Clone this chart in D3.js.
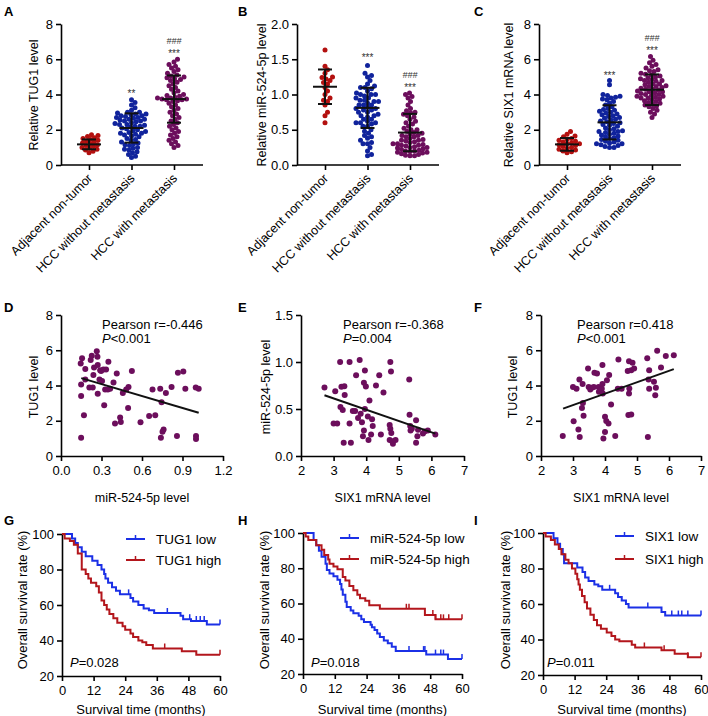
<!DOCTYPE html>
<html><head><meta charset="utf-8">
<script src="https://cdn.jsdelivr.net/npm/d3@7"></script>
<style>body{margin:0;background:#fff}</style>
</head><body>
<script>
// ---------------- DATA ----------------
const groupCats = ["Adjacent non-tumor","HCC without metastasis","HCC with metastasis"];
const yTicksTUG1 = [0,2,4,6,8];
const yTicksMiR = [0,0.5,1.0,1.5,2.0];
const yTicksSIX1 = [0,2,4,6,8];

// Panel A: Relative TUG1 level
const tugAdj = [1.72,1.68,1.62,1.55,1.5,1.45,1.4,1.35,1.3,1.25,1.2,1.15,1.1,1.05,1.0,0.95,0.9,0.85,0.78,0.7];
const tugNoMet = [3.7,3.55,3.4,3.25,3.1,3.0,3.0,2.95,2.9,2.9,2.85,2.8,2.8,2.75,2.7,2.7,2.65,2.6,2.55,2.5,2.5,2.45,2.4,2.35,2.3,2.3,2.25,2.2,2.15,2.1,2.05,2.0,1.95,1.9,1.85,1.8,1.75,1.7,1.65,1.6,1.5,1.45,1.4,1.3,1.25,1.2,1.15,1.1,1.0,0.95,0.9,0.85,0.75,0.7,0.6,0.5,0.42,2.6,2.2,1.8];
const tugMet = [6.0,5.85,5.7,5.6,5.5,5.4,5.3,5.2,5.1,5.05,5.0,4.95,4.9,4.85,4.8,4.7,4.6,4.5,4.4,4.3,4.2,4.1,4.0,3.95,3.9,3.85,3.8,3.8,3.75,3.75,3.7,3.7,3.65,3.6,3.5,3.4,3.3,3.2,3.1,3.0,2.9,2.8,2.7,2.6,2.5,2.4,2.3,2.2,2.1,2.0,1.9,1.8,1.7,1.6,1.5,1.4,1.3,1.2,1.1,1.0];
const tugMean = [1.17,2.1,3.74];
const tugSD = [0.28,0.83,1.34];

// Panel B: Relative miR-524-5p level
const mirAdj = [1.63,1.4,1.35,1.3,1.25,1.24,1.22,1.2,1.17,1.15,1.1,1.05,1.0,0.95,0.92,0.9,0.85,0.75,0.7,0.6];
const mirNoMet = [1.41,1.3,1.27,1.25,1.2,1.15,1.12,1.1,1.1,1.05,1.02,1.0,1.0,1.0,0.98,0.95,0.92,0.9,0.9,0.88,0.85,0.85,0.82,0.8,0.8,0.78,0.75,0.75,0.72,0.7,0.7,0.68,0.65,0.62,0.6,0.6,0.6,0.58,0.55,0.5,0.48,0.45,0.4,0.38,0.35,0.32,0.3,0.3,0.25,0.2,0.15,0.13,0.95,0.85,0.65,1.08,0.92,0.55,0.42,0.78];
const mirMet = [1.02,1.0,0.97,0.95,0.9,0.85,0.8,0.77,0.75,0.74,0.72,0.7,0.68,0.65,0.6,0.58,0.55,0.52,0.5,0.5,0.48,0.46,0.45,0.44,0.42,0.4,0.4,0.38,0.36,0.35,0.34,0.33,0.32,0.3,0.3,0.29,0.28,0.27,0.26,0.25,0.24,0.23,0.22,0.21,0.2,0.2,0.19,0.18,0.17,0.16,0.15,0.14,0.13,0.13,0.28,0.35,0.42,0.62,0.18,0.25];
const mirMean = [1.11,0.81,0.46];
const mirSD = [0.245,0.285,0.265];

// Panel C: Relative SIX1 mRNA level
const sixAdj = [1.9,1.75,1.65,1.6,1.5,1.45,1.4,1.35,1.3,1.25,1.2,1.15,1.1,1.05,1.0,0.95,0.9,0.85,0.8,0.75,0.7,1.2];
const sixNoMet = [4.8,4.55,4.0,3.95,3.9,3.85,3.8,3.75,3.6,3.5,3.4,3.3,3.2,3.1,3.05,3.0,2.95,2.9,2.8,2.75,2.7,2.65,2.6,2.5,2.45,2.4,2.35,2.3,2.25,2.2,2.1,2.05,2.0,1.95,1.9,1.85,1.8,1.75,1.7,1.65,1.6,1.5,1.45,1.4,1.35,1.3,1.25,1.2,1.15,1.1,1.05,1.0,1.0,2.55,3.15,1.55,2.85,1.9,1.2,3.7];
const sixMet = [6.15,5.95,5.8,5.7,5.6,5.5,5.4,5.35,5.3,5.2,5.15,5.1,5.0,4.95,4.9,4.85,4.8,4.75,4.7,4.6,4.55,4.5,4.45,4.4,4.35,4.3,4.25,4.2,4.15,4.1,4.05,4.0,3.95,3.9,3.85,3.8,3.75,3.7,3.65,3.6,3.5,3.45,3.4,3.35,3.3,3.2,3.1,3.0,2.9,2.7,4.6,4.3,4.0,3.8,4.8,5.05,4.45,3.55,4.15,3.9];
const sixMean = [1.17,2.42,4.27];
const sixSD = [0.36,0.97,0.87];

// Significance marks
const sigA = ["", "**", "***"];
const sigB = ["", "***", "***"];
const sigC = ["", "***", "***"];
const hashMarks = ["", "", "###"];

// Panel D: miR-524-5p level (x) vs TUG1 level (y)
const corrD = [[0.146,5.25],[0.156,5.54],[0.149,4.06],[0.149,3.41],[0.149,1.04],[0.17,2.31],[0.18,4.93],[0.18,4.34],[0.22,5.44],[0.228,5.69],[0.21,3.89],[0.235,3.89],[0.24,4.59],[0.245,5.02],[0.265,5.95],[0.27,5.63],[0.272,5.16],[0.272,3.53],[0.285,4.34],[0.29,4.87],[0.297,4.82],[0.304,4.25],[0.314,4.91],[0.32,2.88],[0.327,3.77],[0.334,4.91],[0.347,3.77],[0.351,5.35],[0.364,3.81],[0.389,4.17],[0.40,1.84],[0.413,4.68],[0.438,2.18],[0.443,1.93],[0.458,3.58],[0.483,3.77],[0.5,3.92],[0.497,2.73],[0.525,4.82],[0.589,1.91],[0.653,2.27],[0.678,3.77],[0.698,2.31],[0.735,3.81],[0.745,3.05],[0.74,1.04],[0.752,1.38],[0.76,1.5],[0.777,3.58],[0.819,3.92],[0.859,1.14],[0.866,4.72],[0.906,4.8],[0.921,3.81],[0.998,3.89],[1.02,3.81],[1.0,1.14],[1.0,0.97]];
const fitD = [[0.15,4.42],[1.02,2.45]];
// Panel E: SIX1 mRNA level (x) vs miR-524-5p level (y)
const corrE = [[2.72,0.73],[3.05,0.69],[3.0,0.345],[3.11,0.345],[3.2,1.0],[3.24,0.736],[3.33,0.743],[3.34,0.65],[3.21,0.52],[3.28,0.49],[3.31,0.14],[3.49,1.0],[3.49,0.345],[3.53,0.14],[3.59,0.48],[3.66,0.48],[3.69,0.86],[3.75,0.405],[3.8,1.02],[3.83,0.45],[3.87,0.36],[3.9,0.21],[3.93,0.78],[3.96,0.91],[3.96,0.5],[3.99,0.74],[3.93,0.27],[4.05,0.42],[4.07,0.17],[4.1,0.59],[4.15,0.23],[4.18,0.39],[4.2,0.32],[4.3,0.75],[4.4,0.86],[4.45,0.23],[4.53,0.675],[4.74,1.0],[4.76,0.9],[4.72,0.33],[4.74,0.29],[4.77,0.245],[4.72,0.17],[4.8,0.156],[4.82,0.13],[4.9,0.17],[5.32,0.814],[5.33,0.44],[5.35,0.32],[5.4,0.29],[5.36,0.27],[5.53,0.38],[5.59,0.28],[5.57,0.21],[5.53,0.14],[5.74,0.24],[5.79,0.26],[5.89,0.27],[6.12,0.23]];
const fitE = [[2.72,0.647],[6.12,0.238]];
// Panel F: SIX1 mRNA level (x) vs TUG1 level (y)
const corrF = [[2.68,1.14],[3.02,1.97],[3.0,3.92],[3.11,3.81],[3.17,1.5],[3.21,1.08],[3.2,4.34],[3.28,2.73],[3.31,3.01],[3.33,2.29],[3.3,4.08],[3.47,4.97],[3.49,3.92],[3.54,3.77],[3.59,3.87],[3.65,3.92],[3.67,4.72],[3.75,4.68],[3.8,3.92],[3.81,3.64],[3.86,3.73],[3.9,3.81],[3.92,4.08],[3.92,5.16],[3.93,3.55],[3.95,0.99],[4.0,2.22],[4.0,1.36],[4.04,1.99],[4.06,4.3],[4.11,1.84],[4.13,4.59],[4.19,2.92],[4.32,1.14],[4.42,5.48],[4.4,3.81],[4.52,3.81],[4.71,4.82],[4.75,5.38],[4.76,3.83],[4.75,3.55],[4.73,2.33],[4.82,2.35],[4.82,4.87],[4.86,5.29],[4.91,4.97],[5.32,5.54],[5.36,4.34],[5.38,4.87],[5.38,3.81],[5.34,1.08],[5.53,4.21],[5.57,3.45],[5.59,3.87],[5.63,5.97],[5.75,5.02],[5.9,5.67],[6.15,5.71]];
const fitF = [[2.69,2.69],[6.15,4.93]];
const ticksD = [0,0.3,0.6,0.9,1.2];
const ticksSIX = [2,3,4,5,6,7];

// Kaplan-Meier curves: [month, survival %]
const kmTicksX = [0,12,24,36,48,60];
const kmTicksY = [20,40,60,80,100];
const tugLowKM = [[0,100],[3.8,97.5],[5,95],[6,92.5],[7.5,90],[9,87.5],[11.5,85],[13.5,82.5],[15,80],[16,77.5],[16.5,75],[17.5,72.5],[19,70],[20.5,68],[22,66],[26,64],[27,62],[29,60],[31,58],[33,57],[35,55.5],[45,54],[46,52],[49,51],[55,49]];
const tugLowCens = [25.3,40,48.5,51,52.5,54,60];
const tugHighKM = [[0,100],[1,97.5],[3,96],[4.5,94],[6,89],[7.5,80],[9,77.5],[10,75],[11,72.5],[13,70.5],[14,67],[15,62.5],[16,60],[17,57.5],[18,55],[19.5,52.5],[21,50],[23,48],[24,46],[26,44],[27,42],[29,40],[30.5,39],[32,37.5],[34.5,35.5],[45.5,34],[51,32]];
const tugHighCens = [39,60];
const mirLowKM = [[0,100],[4,96],[5,93],[6,90],[7,86.5],[8.5,82.5],[9,79],[10,77],[11.5,75.5],[13,73.5],[14,71],[14.5,68],[15,65],[16,61],[16.5,58],[18,56],[19,54.5],[21,53],[22,51],[23,49.5],[25.5,48],[26,46.5],[27,45],[28,43],[29,41],[30.5,39],[32,37.5],[33.5,35.5],[35,33],[46.5,31],[54.7,28.5]];
const mirLowCens = [40,45.5,46,50,52,53,60];
const mirHighKM = [[0,100],[1,98],[2,96],[5,93],[7,90.5],[8,87.5],[9.5,85],[10,82.5],[11.5,81],[13,79.5],[15,75],[16,73],[17.5,70],[19,67.5],[20.5,65],[21.5,63],[23.5,61.5],[25,59],[29,57],[46,53.5],[50,51]];
const mirHighCens = [39,40,49,50,52,53,55,60];
const sixLowKM = [[0,100],[4,97],[5.5,94],[6.5,91],[7.5,88],[8,83],[13,80.5],[15,78],[16,75],[17.3,73],[19.5,71],[21,70],[22.5,68],[27.4,66],[28.5,64],[29.9,62],[31.5,60],[32.5,58],[45,55.5],[46.4,53.5]];
const sixLowCens = [25.3,39.8,48.9,51.4,52.7,55,60];
const sixHighKM = [[0,100],[1,98],[3,96],[4.5,93.5],[6,91],[7,88],[8.5,85],[9.7,83],[11,80],[12.3,77],[13,74],[13.5,71],[14,68],[14.8,64.5],[15.8,61],[16.7,57.5],[18,54],[19.3,51],[20.5,48],[22,46],[24.2,44],[26,42],[27.4,40],[29,39],[33.7,37],[35,35.5],[45,34],[50,32],[55,30]];
const sixHighCens = [38.5,46,55,60];

// ---------------- DRAWING ----------------
const FONT = 'Arial, "Liberation Sans", Helvetica, sans-serif';
const groupColors = ["#b3100f","#10239c","#6c0e5c"];
const purple = "#6c0e5c";
const kmBlue = "#1b30e6", kmRed = "#b3161c";

const svg = d3.select("body").append("svg")
  .attr("width",708).attr("height",716)
  .style("font-family",FONT);

function styleAxis(g){
  g.attr("font-family",FONT).attr("font-size",13);
  g.select(".domain").attr("stroke","#000").attr("stroke-width",1.6);
  g.selectAll(".tick line").attr("stroke","#000").attr("stroke-width",1.6);
  g.selectAll(".tick text").attr("fill","#000");
}
function letter(t,x,y){
  svg.append("text").attr("x",x).attr("y",y).attr("font-size",13).attr("font-weight","bold").text(t);
}
function yTitle(t,x,yc,fs){
  svg.append("text").attr("transform",`translate(${x},${yc}) rotate(-90)`)
    .attr("text-anchor","middle").attr("font-size",fs||12.5).attr("fill","#000").text(t);
}
function swarm(vals,y,d){
  const pts=vals.map(v=>({v,y:y(v)})).sort((a,b)=>b.y-a.y);
  const placed=[];
  pts.forEach(p=>{
    for(let k=0;k<120;k++){
      const cands=k===0?[0]:[k*0.5,-k*0.5];
      let ok=null;
      for(const c of cands){
        if(placed.every(q=>(q.dx-c)*(q.dx-c)+(q.y-p.y)*(q.y-p.y)>=d*d)){ok=c;break;}
      }
      if(ok!==null){p.dx=ok;break;}
    }
    placed.push(p);
  });
  return pts;
}

function dotPanel(o){
  const g=svg.append("g");
  const y=d3.scaleLinear().domain([o.yTicks[0],o.yTicks[o.yTicks.length-1]]).range([165,24]);
  const x=d3.scalePoint().domain(groupCats).range([o.x0+28,o.x0+113]);
  g.append("g").attr("transform",`translate(${o.x0},0)`)
    .call(d3.axisLeft(y).tickValues(o.yTicks).tickFormat(o.fmt).tickSize(5).tickPadding(3).tickSizeOuter(0))
    .call(styleAxis);
  const xa=g.append("g").attr("transform",`translate(0,${y(0)})`)
    .call(d3.axisBottom(x).tickSize(5).tickFormat(""));
  xa.select(".domain").remove();
  styleAxis(xa);
  g.append("line").attr("x1",o.x0).attr("x2",o.x0+142).attr("y1",y(0)).attr("y2",y(0))
    .attr("stroke","#000").attr("stroke-width",1.6);
  groupCats.forEach(c=>{
    g.append("text").attr("transform",`translate(${x(c)+4},${y(0)+14}) rotate(-45)`)
      .attr("text-anchor","end").attr("font-size",12.5).text(c);
  });
  o.groups.forEach((vals,i)=>{
    const cx=x(groupCats[i]);
    const pts=swarm(vals,y,4.1);
    g.selectAll(null).data(pts).enter().append("circle")
      .attr("cx",d=>cx+d.dx).attr("cy",d=>d.y).attr("r",2.5).attr("fill",groupColors[i]);
    const m=o.mean[i], s=o.sd[i];
    g.append("line").attr("x1",cx-12).attr("x2",cx+12).attr("y1",y(m)).attr("y2",y(m)).attr("stroke","#111").attr("stroke-width",2);
    g.append("line").attr("x1",cx).attr("x2",cx).attr("y1",y(m-s)).attr("y2",y(m+s)).attr("stroke","#111").attr("stroke-width",2);
    [m-s,m+s].forEach(v=>g.append("line").attr("x1",cx-7).attr("x2",cx+7).attr("y1",y(v)).attr("y2",y(v)).attr("stroke","#111").attr("stroke-width",2));
    if(o.sig[i]) g.append("text").attr("x",cx).attr("y",o.sigY[i]).attr("text-anchor","middle").attr("font-size",10).attr("fill","#333").text(o.sig[i]);
    if(o.hash[i]) g.append("text").attr("x",cx).attr("y",o.hashY[i]).attr("text-anchor","middle").attr("font-size",9).attr("font-style","italic").attr("fill","#333").text(o.hash[i]);
  });
  yTitle(o.title,o.titleX,95);
}

dotPanel({x0:61,yTicks:yTicksTUG1,fmt:d3.format("d"),groups:[tugAdj,tugNoMet,tugMet],mean:tugMean,sd:tugSD,
  sig:sigA,sigY:[0,97,57],hash:hashMarks,hashY:[0,0,44],title:"Relative TUG1 level",titleX:38});
dotPanel({x0:297,yTicks:yTicksMiR,fmt:d3.format(".1f"),groups:[mirAdj,mirNoMet,mirMet],mean:mirMean,sd:mirSD,
  sig:sigB,sigY:[0,61,91],hash:hashMarks,hashY:[0,0,78],title:"Relative miR-524-5p level",titleX:265.5});
dotPanel({x0:539,yTicks:yTicksSIX1,fmt:d3.format("d"),groups:[sixAdj,sixNoMet,sixMet],mean:sixMean,sd:sixSD,
  sig:sigC,sigY:[0,79,54],hash:hashMarks,hashY:[0,0,41],title:"Relative SIX1 mRNA level",titleX:513});
letter("A",4,16); letter("B",238,16); letter("C",474,16);

function corrPanel(o){
  const g=svg.append("g");
  const x=d3.scaleLinear().domain([o.xTicks[0],o.xTicks[o.xTicks.length-1]]).range([o.x0,o.x1]);
  const y=d3.scaleLinear().domain([o.yTicks[0],o.yTicks[o.yTicks.length-1]]).range([456,315]);
  g.append("g").attr("transform",`translate(${o.x0},0)`)
    .call(d3.axisLeft(y).tickValues(o.yTicks).tickFormat(o.yFmt).tickSize(5).tickPadding(3).tickSizeOuter(0)).call(styleAxis);
  g.append("g").attr("transform",`translate(0,456)`)
    .call(d3.axisBottom(x).tickValues(o.xTicks).tickFormat(o.xFmt).tickSize(5).tickPadding(5).tickSizeOuter(0)).call(styleAxis);
  g.selectAll(null).data(o.pts).enter().append("circle")
    .attr("cx",d=>x(d[0])).attr("cy",d=>y(d[1])).attr("r",3).attr("fill",purple);
  g.append("path").datum(o.fit).attr("d",d3.line().x(d=>x(d[0])).y(d=>y(d[1])))
    .attr("stroke","#111").attr("stroke-width",2).attr("fill","none");
  g.append("text").attr("x",o.tx).attr("y",329).attr("font-size",13).text(o.r);
  const p=g.append("text").attr("x",o.tx).attr("y",343).attr("font-size",13);
  p.append("tspan").attr("font-style","italic").text("P");
  p.append("tspan").text(o.p);
  g.append("text").attr("x",(o.x0+o.x1)/2).attr("y",502).attr("text-anchor","middle").attr("font-size",12.5).text(o.xTitle);
  yTitle(o.yTitle,o.titleX,387);
}
corrPanel({x0:61,x1:223,xTicks:ticksD,xFmt:d3.format(".1f"),yTicks:yTicksTUG1,yFmt:d3.format("d"),pts:corrD,fit:fitD,
  tx:102,r:"Pearson r=-0.446",p:"<0.001",xTitle:"miR-524-5p level",yTitle:"TUG1 level",titleX:38});
corrPanel({x0:301,x1:464,xTicks:ticksSIX,xFmt:d3.format("d"),yTicks:[0,0.5,1.0,1.5],yFmt:d3.format(".1f"),pts:corrE,fit:fitE,
  tx:343,r:"Pearson r=-0.368",p:"=0.004",xTitle:"SIX1 mRNA level",yTitle:"miR-524-5p level",titleX:270});
corrPanel({x0:541,x1:701,xTicks:ticksSIX,xFmt:d3.format("d"),yTicks:yTicksTUG1,yFmt:d3.format("d"),pts:corrF,fit:fitF,
  tx:577,r:"Pearson r=0.418",p:"<0.001",xTitle:"SIX1 mRNA level",yTitle:"TUG1 level",titleX:516.5});
letter("D",4,312); letter("E",238,312); letter("F",474,312);

function survAt(data,t){
  let s=data[0][1];
  data.forEach(d=>{ if(d[0]<=t) s=d[1]; });
  return s;
}
function kmPanel(o){
  const g=svg.append("g");
  const x=d3.scaleLinear().domain([0,60]).range([o.x0,o.x1]);
  const y=d3.scaleLinear().domain([20,100]).range([o.yb,o.yt]);
  g.append("g").attr("transform",`translate(${o.x0},0)`)
    .call(d3.axisLeft(y).tickValues(kmTicksY).tickSize(5).tickPadding(3).tickSizeOuter(0)).call(styleAxis);
  g.append("g").attr("transform",`translate(0,${o.yb})`)
    .call(d3.axisBottom(x).tickValues(kmTicksX).tickSize(5).tickPadding(5).tickSizeOuter(0)).call(styleAxis);
  const line=d3.line().curve(d3.curveStepAfter).x(d=>x(d[0])).y(d=>y(d[1]));
  [[o.low,o.lowC,kmBlue],[o.high,o.highC,kmRed]].forEach(([data,cens,col])=>{
    const full=data.concat([[60,data[data.length-1][1]]]);
    g.append("path").datum(full).attr("d",line).attr("fill","none").attr("stroke",col).attr("stroke-width",2);
    cens.forEach(t=>{
      const s=survAt(data,t);
      g.append("line").attr("x1",x(t)).attr("x2",x(t)).attr("y1",y(s)).attr("y2",y(s)-5).attr("stroke",col).attr("stroke-width",1.5);
    });
  });
  [[o.lowLabel,kmBlue,o.ly1],[o.highLabel,kmRed,o.ly2]].forEach(([lab,col,ly])=>{
    g.append("line").attr("x1",o.lx).attr("x2",o.lx+19).attr("y1",ly).attr("y2",ly).attr("stroke",col).attr("stroke-width",2);
    g.append("line").attr("x1",o.lx+9.5).attr("x2",o.lx+9.5).attr("y1",ly).attr("y2",ly-4).attr("stroke",col).attr("stroke-width",1.5);
    g.append("text").attr("x",o.lx+30).attr("y",ly+4.5).attr("font-size",13.5).text(lab);
  });
  const p=g.append("text").attr("x",o.px).attr("y",667).attr("font-size",13);
  p.append("tspan").attr("font-style","italic").text("P");
  p.append("tspan").text(o.p);
  g.append("text").attr("x",(o.x0+o.x1)/2).attr("y",714).attr("text-anchor","middle").attr("font-size",13).text("Survival time (months)");
  yTitle("Overall survival rate (%)",o.titleX,600,13);
}
kmPanel({x0:62,x1:220,yt:534,yb:676,low:tugLowKM,lowC:tugLowCens,high:tugHighKM,highC:tugHighCens,
  lowLabel:"TUG1 low",highLabel:"TUG1 high",lx:126,ly1:539,ly2:560,px:70,p:"=0.028",titleX:27});
kmPanel({x0:303,x1:462,yt:533,yb:674,low:mirLowKM,lowC:mirLowCens,high:mirHighKM,highC:mirHighCens,
  lowLabel:"miR-524-5p low",highLabel:"miR-524-5p high",lx:340,ly1:538,ly2:559,px:311,p:"=0.018",titleX:269});
kmPanel({x0:543,x1:701,yt:533,yb:675,low:sixLowKM,lowC:sixLowCens,high:sixHighKM,highC:sixHighCens,
  lowLabel:"SIX1 low",highLabel:"SIX1 high",lx:615,ly1:536,ly2:559,px:547,p:"=0.011",titleX:510});
letter("G",4,525); letter("H",238,525); letter("I",474,525);
</script>
</body></html>
